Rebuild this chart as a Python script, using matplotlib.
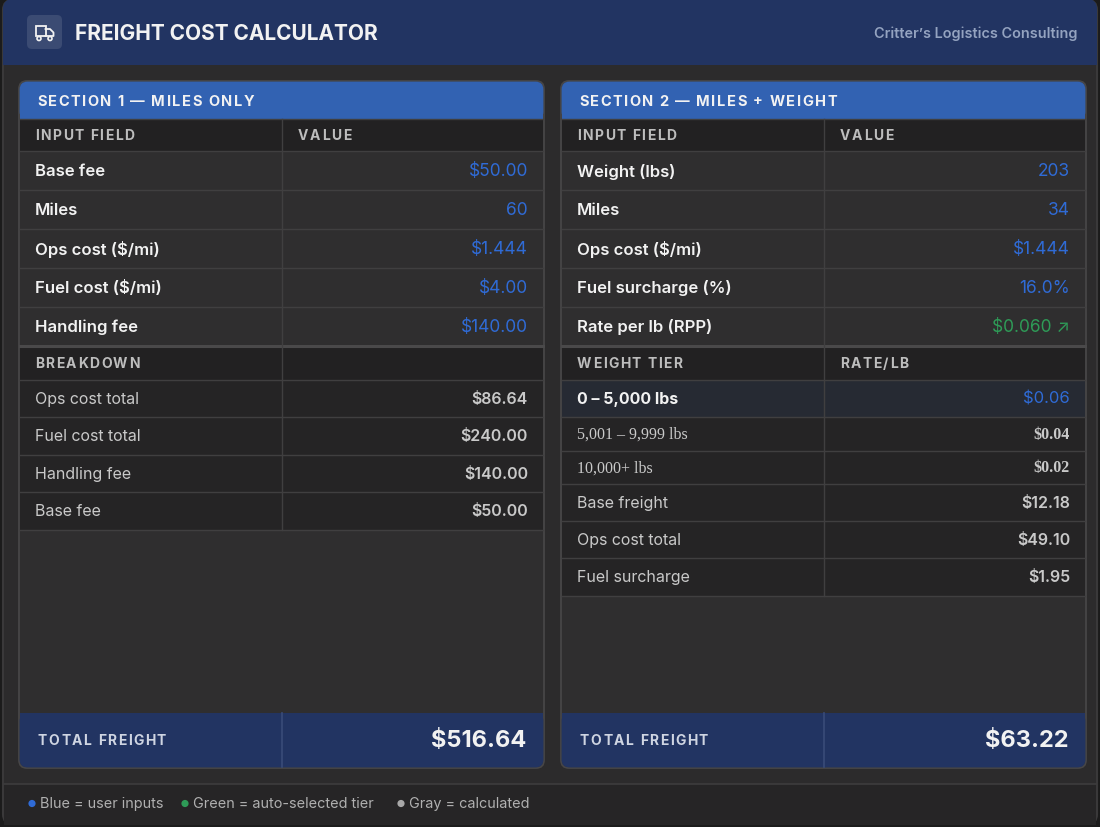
import matplotlib
matplotlib.use("Agg")
import matplotlib.pyplot as plt
from matplotlib.patches import FancyBboxPatch, Rectangle, Circle

# ---------------- data ----------------
title = "FREIGHT COST CALCULATOR"
brand = "Critter’s Logistics Consulting"

s1_title = "SECTION 1 — MILES ONLY"
s1_inputs = ["Base fee", "Miles", "Ops cost ($/mi)", "Fuel cost ($/mi)", "Handling fee"]
s1_input_vals = ["$50.00", "60", "$1.444", "$4.00", "$140.00"]
s1_sub_header = ["BREAKDOWN", ""]
s1_breakdown = ["Ops cost total", "Fuel cost total", "Handling fee", "Base fee"]
s1_breakdown_vals = ["$86.64", "$240.00", "$140.00", "$50.00"]
s1_total = "$516.64"

s2_title = "SECTION 2 — MILES + WEIGHT"
s2_inputs = ["Weight (lbs)", "Miles", "Ops cost ($/mi)", "Fuel surcharge (%)", "Rate per lb (RPP)"]
s2_input_vals = ["203", "34", "$1.444", "16.0%", "$0.060 ↗"]
s2_sub_header = ["WEIGHT TIER", "RATE/LB"]
tiers = ["0 – 5,000 lbs", "5,001 – 9,999 lbs", "10,000+ lbs"]
tier_rates = ["$0.06", "$0.04", "$0.02"]
s2_breakdown = ["Base freight", "Ops cost total", "Fuel surcharge"]
s2_breakdown_vals = ["$12.18", "$49.10", "$1.95"]
s2_total = "$63.22"

col_headers = ["INPUT FIELD", "VALUE"]
total_label = "TOTAL FREIGHT"
legend_items = ["Blue = user inputs", "Green = auto-selected tier", "Gray = calculated"]

# ---------------- style ----------------
FONT = "Inter"
SERIF = "Liberation Serif"
BG_OUT = "#1b1b1b"
BG = "#2c2b2c"
HEADER = "#223462"
PANEL = "#2f2e2f"
PANEL_EDGE = "#474647"
BAND = "#3262b2"
COLHEAD = "#222122"
INROW = "#2f2e2f"
BDROW = "#252425"
GRID = "#403f40"
TIER_HI = "#262a33"
BLUE = "#2f6bd6"
GREEN = "#2e9b57"
GRAY = "#c9c9c9"
WHITE = "#f2f2f2"

W, H = 1100, 828
fig = plt.figure(figsize=(W / 100, H / 100), dpi=100)
fig.patch.set_facecolor(BG_OUT)
ax = fig.add_axes([0, 0, 1, 1])
ax.set_xlim(0, W)
ax.set_ylim(H, 0)
ax.axis("off")
renderer = fig.canvas.get_renderer()


def spaced(x, y, s, spacing, **kw):
    """Left-aligned text with extra letter spacing (pixels)."""
    def wid(t):
        tt = ax.text(0, 0, t, **kw)
        w = tt.get_window_extent(renderer).width
        tt.remove()
        return w
    w_ref = wid("I")
    for i, ch in enumerate(s):
        if ch == " ":
            continue
        off = (wid(s[:i] + "I") - w_ref) if i > 0 else 0
        ax.text(x + off + i * spacing, y, ch, ha="left", va="center", zorder=3, **kw)


# outer frame
ax.add_patch(FancyBboxPatch((3, 1), W - 6, H - 4, boxstyle="round,pad=0,rounding_size=10",
                            fc=BG, ec="#3a393a", lw=1.5, zorder=0))
# header band
ax.add_patch(FancyBboxPatch((3, 0), W - 6, 66, boxstyle="round,pad=0,rounding_size=10",
                            fc=HEADER, ec="none", zorder=1))
ax.add_patch(Rectangle((3, 30), W - 6, 36, fc=HEADER, ec="none", zorder=1))
# icon
ax.add_patch(FancyBboxPatch((27, 16), 35, 34, boxstyle="round,pad=0,rounding_size=5",
                            fc="#3b4b73", ec="none", zorder=2))
ax.add_patch(Rectangle((35.5, 27), 10, 10, fc="none", ec=WHITE, lw=1.3, zorder=3))
ax.plot([45.5, 50, 53.5, 53.5, 45.5], [30, 30, 33.5, 37, 37], color=WHITE, lw=1.3, zorder=3)
ax.add_patch(Circle((39, 39.5), 2.0, fc="#3b4b73", ec=WHITE, lw=1.2, zorder=4))
ax.add_patch(Circle((50, 39.5), 2.0, fc="#3b4b73", ec=WHITE, lw=1.2, zorder=4))

ax.text(75, 33.5, title, color=WHITE, fontsize=15, fontweight="bold", family=FONT,
        va="center", ha="left", zorder=3)
ax.text(1078, 34, brand, color="#94a3c0", fontsize=10.4, fontweight="semibold", family=FONT,
        va="center", ha="right", zorder=3)

# legend bar
ax.add_patch(Rectangle((4, 785), W - 8, 41, fc="#262526", ec="none", zorder=1))
ax.plot([4, W - 4], [785, 785], color="#3d3c3d", lw=1.2, zorder=2)
legend_x = [32, 185, 401]
legend_c = [BLUE, GREEN, "#a8a8a8"]
for lx, lc, lt in zip(legend_x, legend_c, legend_items):
    ax.add_patch(Circle((lx, 804.5), 3.6, fc=lc, ec="none", zorder=3))
    ax.text(lx + 8, 804.5, lt, color="#b0b0b0", fontsize=10.4, family=FONT,
            va="center", ha="left", zorder=3)

# ---------------- panels ----------------
TOP, BOTTOM = 82, 769
BAND_H = 38
COLHEAD_Y = (120, 152)
IN_EDGES = [152, 191, 230, 269, 308, 347]
SUB_Y = (347, 381)
TOTAL_Y = 714
LS = 1.5  # letter spacing for caps labels


def panel(x0, x1, xdiv, sec_title, inputs, input_vals, input_colors, sub_header,
          low_rows, low_edges, low_styles, total_val):
    w = x1 - x0
    ax.add_patch(FancyBboxPatch((x0, TOP), w, BOTTOM - TOP, boxstyle="round,pad=0,rounding_size=8",
                                fc=PANEL, ec=PANEL_EDGE, lw=1.3, zorder=1))
    ax.add_patch(FancyBboxPatch((x0 + 0.6, TOP + 0.6), w - 1.2, BAND_H,
                                boxstyle="round,pad=0,rounding_size=8", fc=BAND, ec="none", zorder=2))
    ax.add_patch(Rectangle((x0 + 0.6, TOP + 15), w - 1.2, BAND_H - 14.4, fc=BAND, ec="none", zorder=2))
    spaced(x0 + 18, TOP + BAND_H / 2 + 0.5, sec_title, LS, color=WHITE, fontsize=10.5,
           fontweight="bold", family=FONT)
    # column header
    ax.add_patch(Rectangle((x0 + 0.6, COLHEAD_Y[0]), w - 1.2, COLHEAD_Y[1] - COLHEAD_Y[0],
                           fc=COLHEAD, ec="none", zorder=2))
    cy = sum(COLHEAD_Y) / 2
    spaced(x0 + 16, cy, col_headers[0], LS, color="#bdbdbd", fontsize=10, fontweight="bold", family=FONT)
    spaced(xdiv + 16, cy, col_headers[1], LS, color="#bdbdbd", fontsize=10, fontweight="bold", family=FONT)
    # input rows
    for i, (lab, val, vc) in enumerate(zip(inputs, input_vals, input_colors)):
        ya, yb = IN_EDGES[i], IN_EDGES[i + 1]
        ax.add_patch(Rectangle((x0 + 0.6, ya), w - 1.2, yb - ya, fc=INROW, ec="none", zorder=2))
        ym = (ya + yb) / 2
        ax.text(x0 + 16, ym, lab, color=WHITE, fontsize=12, fontweight="semibold", family=FONT,
                va="center", ha="left", zorder=3)
        ax.text(x1 - 16, ym, val, color=vc, fontsize=12.5, family=[FONT, "DejaVu Sans"],
                va="center", ha="right", zorder=3)
    # sub header
    ax.add_patch(Rectangle((x0 + 0.6, SUB_Y[0]), w - 1.2, SUB_Y[1] - SUB_Y[0], fc=COLHEAD,
                           ec="none", zorder=2))
    sy = sum(SUB_Y) / 2
    spaced(x0 + 16, sy, sub_header[0], LS, color="#bdbdbd", fontsize=10, fontweight="bold", family=FONT)
    if sub_header[1]:
        spaced(xdiv + 16, sy, sub_header[1], LS, color="#bdbdbd", fontsize=10, fontweight="bold",
               family=FONT)
    # lower rows
    for i, ((lab, val), st) in enumerate(zip(low_rows, low_styles)):
        ya, yb = low_edges[i], low_edges[i + 1]
        ax.add_patch(Rectangle((x0 + 0.6, ya), w - 1.2, yb - ya, fc=st.get("bg", BDROW),
                               ec="none", zorder=2))
        ym = (ya + yb) / 2
        ax.text(x0 + 16, ym, lab, color=st.get("lc", GRAY), fontsize=st.get("ls", 11.5),
                fontweight=st.get("lw", "normal"), family=st.get("lf", FONT),
                va="center", ha="left", zorder=3)
        ax.text(x1 - 16, ym, val, color=st.get("vc", GRAY), fontsize=st.get("vs", 11.5),
                fontweight=st.get("vw", "semibold"), family=st.get("vf", FONT),
                va="center", ha="right", zorder=3)
    # grid lines
    all_edges = [COLHEAD_Y[0], COLHEAD_Y[1]] + IN_EDGES[1:] + [SUB_Y[1]] + low_edges[1:]
    for y in all_edges:
        ax.plot([x0 + 0.6, x1 - 0.6], [y, y], color=GRID, lw=1.0, zorder=2.5)
    ax.plot([x0 + 0.6, x1 - 0.6], [SUB_Y[0], SUB_Y[0]], color="#4a494a", lw=2.2, zorder=2.5)
    ax.plot([xdiv, xdiv], [COLHEAD_Y[0], low_edges[-1]], color=GRID, lw=1.0, zorder=2.5)
    # total
    ax.add_patch(FancyBboxPatch((x0 + 0.6, TOTAL_Y), w - 1.2, BOTTOM - TOTAL_Y - 0.6,
                                boxstyle="round,pad=0,rounding_size=8", fc=HEADER, ec="none", zorder=2))
    ax.add_patch(Rectangle((x0 + 0.6, TOTAL_Y), w - 1.2, 20, fc=HEADER, ec="none", zorder=2))
    ax.plot([xdiv, xdiv], [TOTAL_Y, BOTTOM - 1], color="#3a4c78", lw=1.2, zorder=2.5)
    ty = (TOTAL_Y + BOTTOM) / 2
    spaced(x0 + 19, ty, total_label, LS, color="#cfd5e2", fontsize=10, fontweight="bold", family=FONT)
    ax.text(x1 - 18, ty, total_val, color=WHITE, fontsize=17, fontweight="bold",
            family=FONT, va="center", ha="right", zorder=3)


# Section 1
s1_low = list(zip(s1_breakdown, s1_breakdown_vals))
panel(19, 544, 282, s1_title, s1_inputs, s1_input_vals, [BLUE] * len(s1_inputs), s1_sub_header,
      s1_low, [381, 418, 456, 493, 531], [{} for _ in s1_low], s1_total)

# Section 2
s2_low = list(zip(tiers, tier_rates)) + list(zip(s2_breakdown, s2_breakdown_vals))
s2_styles = [
    {"bg": TIER_HI, "lc": WHITE, "lw": "bold", "vc": BLUE, "vw": "normal", "ls": 11.5, "vs": 12},
    {"lf": SERIF, "vf": SERIF, "vw": "bold", "ls": 11.5, "vs": 11.5},
    {"lf": SERIF, "vf": SERIF, "vw": "bold", "ls": 11.5, "vs": 11.5},
    {}, {}, {},
]
s2_colors = [BLUE, BLUE, BLUE, BLUE, GREEN]
panel(561, 1086, 824, s2_title, s2_inputs, s2_input_vals, s2_colors, s2_sub_header,
      s2_low, [381, 418, 452, 485, 522, 559, 597], s2_styles, s2_total)

fig.savefig("out.png", dpi=100, facecolor=fig.get_facecolor())
